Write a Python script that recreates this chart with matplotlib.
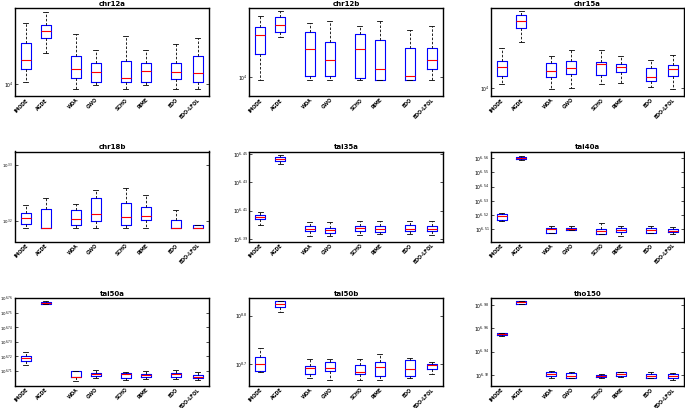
import numpy as np
import matplotlib
matplotlib.use("Agg")
from matplotlib import pyplot as plt
from matplotlib.ticker import FixedLocator, FixedFormatter, NullLocator

algorithms = ["IMODE", "AGDE", "WOA", "GWO", "SCHO", "RIME", "EDO", "EDO-LFOL"]

# each row: lower whisker, q1, median, q3, upper whisker
chr12a = [(10200, 11460, 12310, 14350, 17060),
          (13160, 14930, 15860, 16770, 18870),
          (9552, 10510, 11460, 12780, 15510),
          (9915, 10200, 11160, 11990, 13540),
          (9552, 10150, 10560, 12230, 15240),
          (9915, 10170, 11260, 12030, 13540),
          (9552, 10420, 11160, 12070, 14260),
          (9552, 10150, 11030, 12780, 14980)]

chr12b = [(9742, 12430, 15010, 16260, 17950),
          (14770, 15500, 16530, 17780, 18960),
          (9742, 10090, 13040, 15400, 16780),
          (9742, 10090, 11730, 14080, 17220),
          (9742, 9900, 13040, 15100, 16310),
          (9742, 9742, 10830, 14310, 17220),
          (9742, 9742, 10090, 13250, 15800),
          (9742, 10830, 11730, 13250, 16310)]

chr15a = [(10450, 11610, 12980, 13950, 16360),
          (17520, 20740, 22550, 24240, 25430),
          (9845, 11410, 12370, 13570, 14760),
          (10000, 11890, 12820, 13830, 15920),
          (10540, 11790, 13400, 13780, 15860),
          (10620, 12220, 12870, 13400, 14690),
          (10080, 10840, 11510, 12720, 14110),
          (9928, 11610, 12620, 13180, 14990)]

chr18b = [(1534, 1564, 1603, 1636, 1690),
          (1534, 1534, 1534, 1663, 1740),
          (1534, 1553, 1596, 1652, 1697),
          (1534, 1582, 1629, 1737, 1800),
          (1534, 1557, 1606, 1704, 1810),
          (1534, 1587, 1617, 1677, 1762),
          (1534, 1534, 1538, 1587, 1652),
          (1534, 1534, 1534, 1553, 1553)]

tai35a = [(2511400, 2535000, 2543300, 2551700, 2562500),
          (2774900, 2788500, 2797600, 2805500, 2812900),
          (2466700, 2484200, 2495200, 2504600, 2522500),
          (2466700, 2477600, 2489800, 2498000, 2522500),
          (2470800, 2484200, 2498000, 2507500, 2529100),
          (2474800, 2481600, 2494000, 2504600, 2529100),
          (2474800, 2484200, 2494000, 2511400, 2529100),
          (2470800, 2484200, 2494000, 2507500, 2525100)]

tai40a = [(3278300, 3287400, 3305200, 3315900, 3325200),
          (3620600, 3624700, 3632300, 3638200, 3644300),
          (3216500, 3218600, 3237600, 3242800, 3255400),
          (3230700, 3232200, 3239600, 3244900, 3255400),
          (3209700, 3211200, 3225400, 3239600, 3271500),
          (3199200, 3221700, 3232200, 3241200, 3255400),
          (3214900, 3218600, 3234400, 3241200, 3255400),
          (3211200, 3221700, 3229100, 3235900, 3248100)]

tai50a = [(5177300, 5213200, 5235300, 5254800, 5283000),
          (5700000, 5705700, 5714800, 5723600, 5732800),
          (5048000, 5080100, 5080100, 5131100, 5131100),
          (5069600, 5090600, 5104300, 5114800, 5139200),
          (5053600, 5069600, 5104300, 5110000, 5122900),
          (5066400, 5080100, 5096200, 5106700, 5131100),
          (5061600, 5080100, 5101800, 5114800, 5134300),
          (5053600, 5072000, 5082500, 5096200, 5122900)]

tai50b = [(481740000, 485440000, 500470000, 517430000, 540130000),
          (641310000, 658670000, 666220000, 677770000, 677770000),
          (469490000, 477860000, 492430000, 497140000, 512570000),
          (464390000, 484740000, 491020000, 505250000, 514030000),
          (464390000, 477170000, 481740000, 498800000, 514030000),
          (464390000, 472640000, 494780000, 505250000, 526400000),
          (468140000, 473990000, 488690000, 510810000, 516480000),
          (478540000, 488690000, 498800000, 501900000, 505250000)]

tho150 = [(8988900, 9001400, 9018900, 9031000, 9036300),
          (9563800, 9575100, 9601300, 9626000, 9631700),
          (8263600, 8301200, 8334100, 8361900, 8388500),
          (8263600, 8263600, 8301200, 8345600, 8361900),
          (8273500, 8284800, 8301200, 8322600, 8334100),
          (8284800, 8306200, 8334100, 8361900, 8372000),
          (8263600, 8273500, 8301200, 8329100, 8361900),
          (8236000, 8263600, 8306200, 8329100, 8345600)]

panels = [
    ("chr12a", chr12a, (9016, 19480), [1e4], ["$10^{4}$"]),
    ("chr12b", chr12b, (8331, 19450), [1e4], ["$10^{4}$"]),
    ("chr15a", chr15a, (9085, 26460), [1e4], ["$10^{4}$"]),
    ("chr18b", chr18b, (1454, 2105), [10 ** 3.2, 10 ** 3.3],
     ["$10^{3.2}$", "$10^{3.3}$"]),
    ("tai35a", tai35a, (2443900, 2831000), [10 ** e for e in (6.39, 6.41, 6.43, 6.45)],
     ["$10^{%.2f}$" % e for e in (6.39, 6.41, 6.43, 6.45)]),
    ("tai40a", tai40a, (3173200, 3669900),
     [10 ** e for e in (6.51, 6.52, 6.53, 6.54, 6.55, 6.56)],
     ["$10^{%.2f}$" % e for e in (6.51, 6.52, 6.53, 6.54, 6.55, 6.56)]),
    ("tai50a", tai50a, (5010600, 5760400),
     [10 ** e for e in (6.71, 6.72, 6.73, 6.74, 6.75, 6.76)],
     ["$10^{%.2f}$" % e for e in (6.71, 6.72, 6.73, 6.74, 6.75, 6.76)]),
    ("tai50b", tai50b, (451910000, 687530000), [10 ** 8.7, 10 ** 8.8],
     ["$10^{8.7}$", "$10^{8.8}$"]),
    ("tho150", tho150, (8143900, 9689200),
     [10 ** e for e in (6.92, 6.94, 6.96, 6.98)],
     ["$10^{%.2f}$" % e for e in (6.92, 6.94, 6.96, 6.98)]),
]

positions = [1, 2, 3.5, 4.5, 6, 7, 8.5, 9.6]
W, H = 685, 408
col_x = [(15, 209), (249.5, 443), (491, 684)]
row_y = [(8, 96), (151.5, 241.5), (297.7, 385.7)]

fig = plt.figure(figsize=(W / 100, H / 100), dpi=100)

for i, (name, data, ylim, ticks, ticklabels) in enumerate(panels):
    x0, x1 = col_x[i % 3]
    y0, y1 = row_y[i // 3]
    ax = fig.add_axes([x0 / W, 1 - y1 / H, (x1 - x0) / W, (y1 - y0) / H])

    stats = [dict(whislo=d[0], q1=d[1], med=d[2], q3=d[3], whishi=d[4], label=lab)
             for d, lab in zip(data, algorithms)]
    ax.bxp(stats, positions=positions, widths=0.5, capwidths=0.25, showfliers=False,
           boxprops=dict(color="#0000ff", linewidth=0.8),
           medianprops=dict(color="#ff0000", linewidth=0.8),
           whiskerprops=dict(color="black", linestyle=(0, (3, 2)), linewidth=0.6),
           capprops=dict(color="black", linewidth=0.6))

    ax.set_yscale("log")
    ax.set_ylim(*ylim)
    ax.set_xlim(0.47, 10.17)
    ax.yaxis.set_major_locator(FixedLocator(ticks))
    ax.yaxis.set_major_formatter(FixedFormatter(ticklabels))
    ax.yaxis.set_minor_locator(NullLocator())
    # the left column has barely any room for the long labels
    ysize = 2.9 if (i % 3 == 0 and len(ticklabels[0]) > 9) else 3.3
    ax.tick_params(axis="y", direction="in", length=2, width=0.5, labelsize=ysize,
                   right=True, pad=1.2)
    ax.tick_params(axis="x", length=0, pad=1)
    ax.set_xticks(positions)
    ax.set_xticklabels(algorithms, rotation=45, ha="right", rotation_mode="anchor",
                       fontsize=3.4, fontweight="bold")
    for sp in ax.spines.values():
        sp.set_linewidth(1.0)
    ax.set_title(name, fontsize=5, fontweight="bold", pad=1.5)

fig.savefig("out.png", dpi=100)
